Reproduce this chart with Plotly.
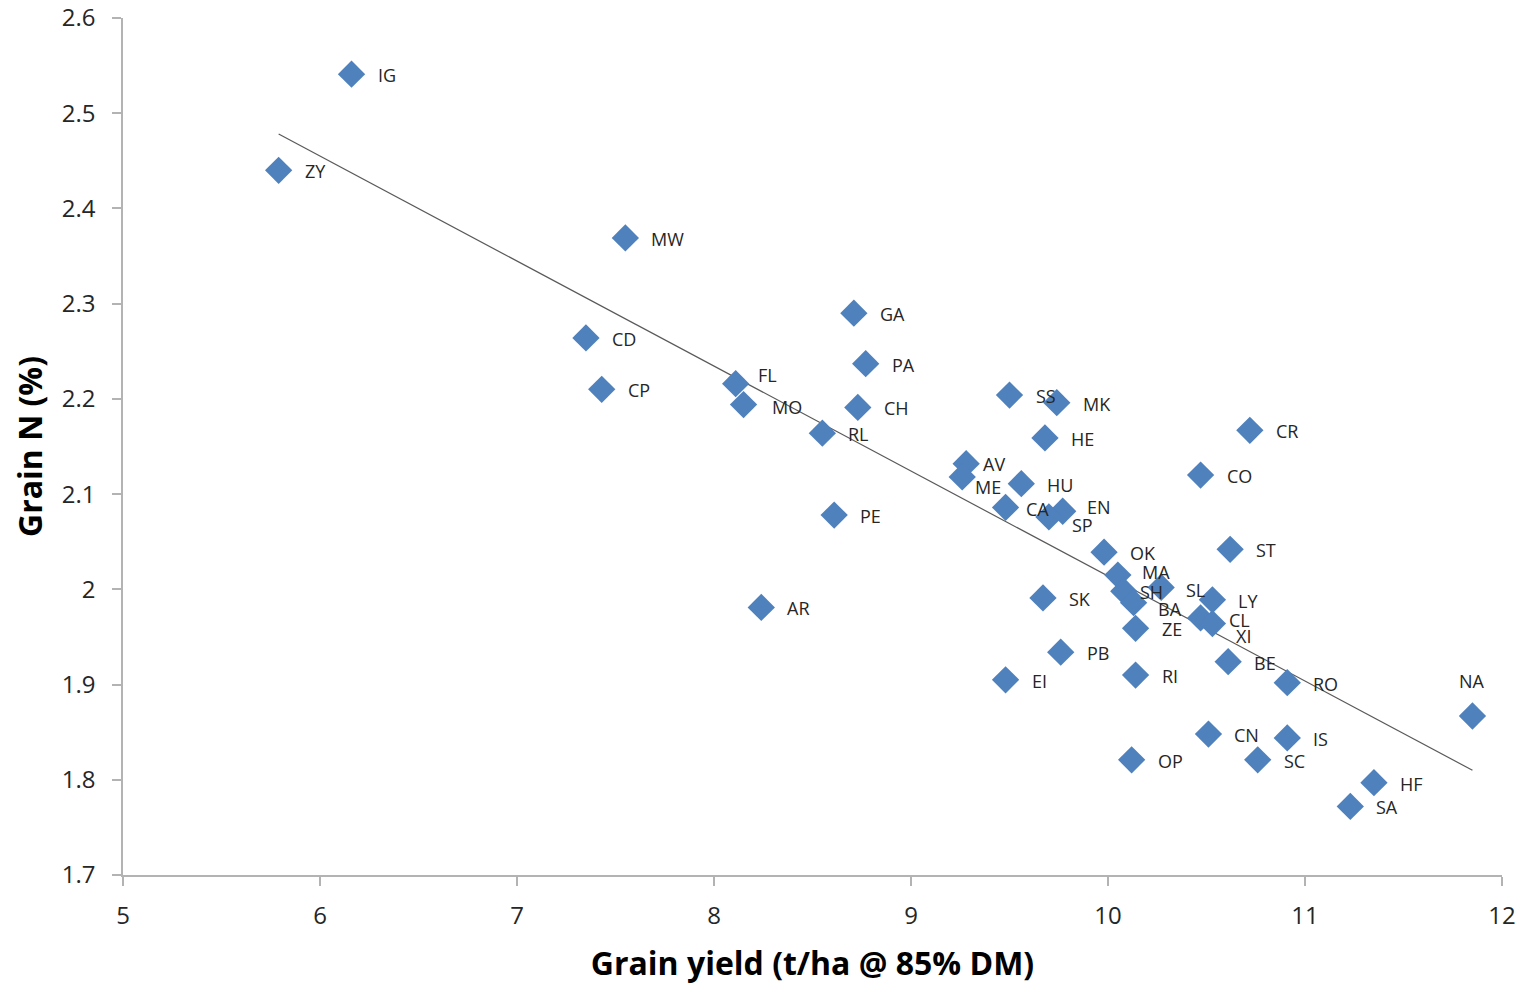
import numpy as np
import plotly.graph_objects as go

# ---- data ----
names = ["IG", "ZY", "MW", "GA", "CD", "PA", "CP", "FL", "MO", "CH", "RL", "SS", "MK", "HE",
         "AV", "ME", "HU", "CA", "EN", "SP", "OK", "MA", "SH", "BA", "SL", "LY", "CL", "XI",
         "ZE", "SK", "PB", "EI", "RI", "BE", "RO", "ST", "CO", "CR", "PE", "AR", "NA", "CN",
         "IS", "OP", "SC", "HF", "SA"]
grain_yield = [6.16, 5.79, 7.55, 8.71, 7.35, 8.77, 7.43, 8.11, 8.15, 8.73, 8.55, 9.50, 9.74, 9.68,
               9.28, 9.26, 9.56, 9.48, 9.77, 9.70, 9.98, 10.05, 10.08, 10.13, 10.27, 10.53, 10.47, 10.53,
               10.14, 9.67, 9.76, 9.48, 10.14, 10.61, 10.91, 10.62, 10.47, 10.72, 8.61, 8.24, 11.85, 10.51,
               10.91, 10.12, 10.76, 11.35, 11.23]
grain_n = [2.541, 2.440, 2.369, 2.290, 2.264, 2.237, 2.210, 2.216, 2.194, 2.191, 2.164, 2.204, 2.196, 2.159,
           2.132, 2.118, 2.111, 2.086, 2.082, 2.076, 2.039, 2.015, 1.998, 1.986, 2.002, 1.989, 1.970, 1.964,
           1.959, 1.991, 1.934, 1.905, 1.910, 1.924, 1.902, 2.042, 2.120, 2.167, 2.078, 1.981, 1.867, 1.848,
           1.844, 1.821, 1.821, 1.797, 1.772]
x_ticks = [5, 6, 7, 8, 9, 10, 11, 12]
y_ticks = [1.7, 1.8, 1.9, 2.0, 2.1, 2.2, 2.3, 2.4, 2.5, 2.6]
y_tick_text = ["1.7", "1.8", "1.9", "2", "2.1", "2.2", "2.3", "2.4", "2.5", "2.6"]

# ---- label placement (pixel offsets, style only) ----
default_off = (24, 1)
label_off = {"FL": (20, -9), "AV": (15, 0), "ME": (11, 10), "CA": (18, 2), "EN": (22, -4),
             "SP": (21, 8), "MA": (22, -3), "SH": (14, 1), "BA": (22, 6), "SL": (23, 3),
             "XI": (22, 12), "MO": (26, 2), "CL": (26, 2)}

FONT = "Open Sans"
TXT = "#262626"

# linear trend line computed from the data
slope, intercept = np.polyfit(grain_yield, grain_n, 1)
tx = np.array([min(grain_yield), max(grain_yield)])
ty = slope * tx + intercept

fig = go.Figure()
fig.add_trace(go.Scatter(x=tx, y=ty, mode="lines",
                         line=dict(color="#595959", width=1.2), hoverinfo="skip", showlegend=False))
fig.add_trace(go.Scatter(x=grain_yield, y=grain_n, mode="markers", text=names,
                         marker=dict(symbol="diamond", size=21, color="#4F81BD", line=dict(width=0)),
                         showlegend=False))

annotations = []
for n, xv, yv in zip(names, grain_yield, grain_n):
    if n == "NA":
        annotations.append(dict(x=xv, y=yv, text=n, showarrow=False, xanchor="center",
                                yanchor="middle", yshift=35, font=dict(family=FONT, size=18, color=TXT)))
        continue
    dx, dy = label_off.get(n, default_off)
    annotations.append(dict(x=xv, y=yv, text=n, showarrow=False, xanchor="left", yanchor="middle",
                            xshift=dx, yshift=-dy, font=dict(family=FONT, size=18, color=TXT)))

# the page body adds an 8 px offset; figure size and margins compensate for it
fig.update_layout(
    width=1515, height=976,
    margin=dict(l=115, r=21, t=10, b=109, autoexpand=False),
    paper_bgcolor="white", plot_bgcolor="white",
    font=dict(family=FONT, color=TXT),
    annotations=annotations,
    xaxis=dict(range=[5, 12], tickvals=x_ticks, showgrid=False, zeroline=False, automargin=False,
               showline=True, linecolor="#b3b3b3", linewidth=1.5,
               ticks="outside", ticklen=9, tickcolor="#b3b3b3", tickwidth=1.5,
               ticklabelstandoff=9, ticklabeloverflow="allow",
               tickfont=dict(family=FONT, size=24, color=TXT),
               title=dict(text="<b>Grain yield (t/ha @ 85% DM)</b>", standoff=24,
                          font=dict(family=FONT, size=32, color="#000000"))),
    yaxis=dict(range=[1.7, 2.6], tickvals=y_ticks, ticktext=y_tick_text, showgrid=False, zeroline=False,
               automargin=False,
               showline=True, linecolor="#b3b3b3", linewidth=1.5,
               ticks="outside", ticklen=9, tickcolor="#b3b3b3", tickwidth=1.5,
               ticklabelstandoff=12, ticklabeloverflow="allow",
               tickfont=dict(family=FONT, size=24, color=TXT),
               title=dict(text="<b>Grain N (%)</b>", standoff=18,
                          font=dict(family=FONT, size=32, color="#000000"))),
)

fig.write_html("out.html")
